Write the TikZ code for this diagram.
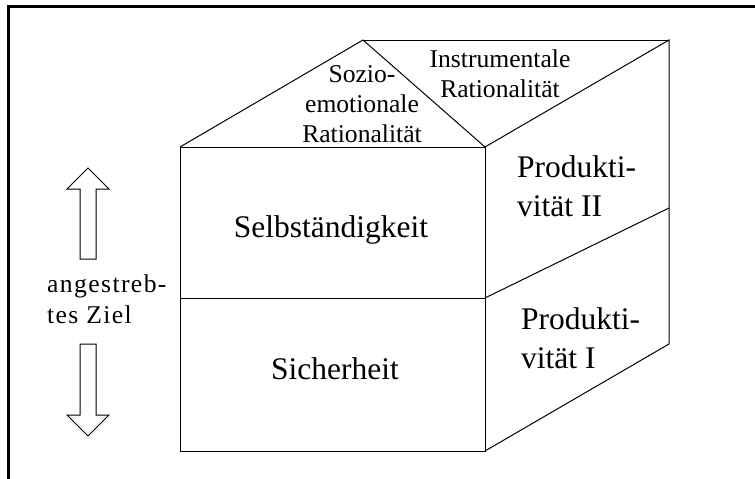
\documentclass[tikz,border=0pt]{standalone}
\usepackage{fontspec}
\setmainfont{Liberation Serif}
\newfontfamily\spacedserif[LetterSpace=5.5]{Liberation Serif}
\begin{document}
\begin{tikzpicture}[x=1pt,y=-1pt,
  edge/.style={line width=1pt,black},
  frameline/.style={line width=3pt,black},
  bigtext/.style={font=\fontsize{31.5}{38.5}\selectfont,inner sep=0pt},
  rooftext/.style={font=\fontsize{25.6}{30}\selectfont,inner sep=0pt,align=center},
  goaltext/.style={font=\fontsize{25.6}{31}\spacedserif,inner sep=0pt,align=left},
  hollowarrow/.style={line width=1pt,black,fill=white,line join=miter}]
\useasboundingbox (0,0) rectangle (755,479);

% outer frame, open to the right and bottom
\draw[frameline] (8.5,490) -- (8.5,6.5) -- (770,6.5);

% corner points of the house-shaped cube
\coordinate (fTL) at (180,147);
\coordinate (fTR) at (485,147);
\coordinate (fML) at (180,298);
\coordinate (fMR) at (485,298);
\coordinate (fBL) at (180,451);
\coordinate (fBR) at (485,451);
\coordinate (apex) at (363,40);
\coordinate (bT) at (669,40);
\coordinate (bM) at (669,208);
\coordinate (bB) at (669,344);

% front face
\draw[edge] (fTL) rectangle (fBR);
\draw[edge] (fML) -- (fMR);
% side face
\draw[edge] (fTR) -- (bT) -- (bB) -- (fBR);
\draw[edge] (fMR) -- (bM);
% roof
\draw[edge] (fTL) -- (apex) -- (fTR);
\draw[edge] (apex) -- (bT);

% labels (multi-line nodes are anchored at the baseline of their last line)
\node[bigtext,anchor=base] (selb) at (331,237) {Selbständigkeit};
\node[bigtext,anchor=base] (sich) at (335,379) {Sicherheit};
\node[bigtext,anchor=base west,align=left] (prod2) at (517,216) {Produkti-\\vität II};
\node[bigtext,anchor=base west,align=left] (prod1) at (521,368) {Produkti-\\vität I};
\node[rooftext,anchor=base] (sozio) at (362,142) {Sozio-\\emotionale\\Rationalität};
\node[rooftext,anchor=base] (instr) at (500,97) {Instrumentale\\Rationalität};
\node[goaltext,anchor=base west] (ziel) at (47,323) {angestreb-\\tes Ziel};

% hollow arrows pointing up and down
\draw[hollowarrow] (80,259) -- (80,189) -- (67,189) -- (88,168) -- (109,189) -- (96,189) -- (96,259) -- cycle;
\draw[hollowarrow] (80,344) -- (80,415) -- (67,415) -- (88,436) -- (109,415) -- (96,415) -- (96,344) -- cycle;
\end{tikzpicture}
\end{document}
